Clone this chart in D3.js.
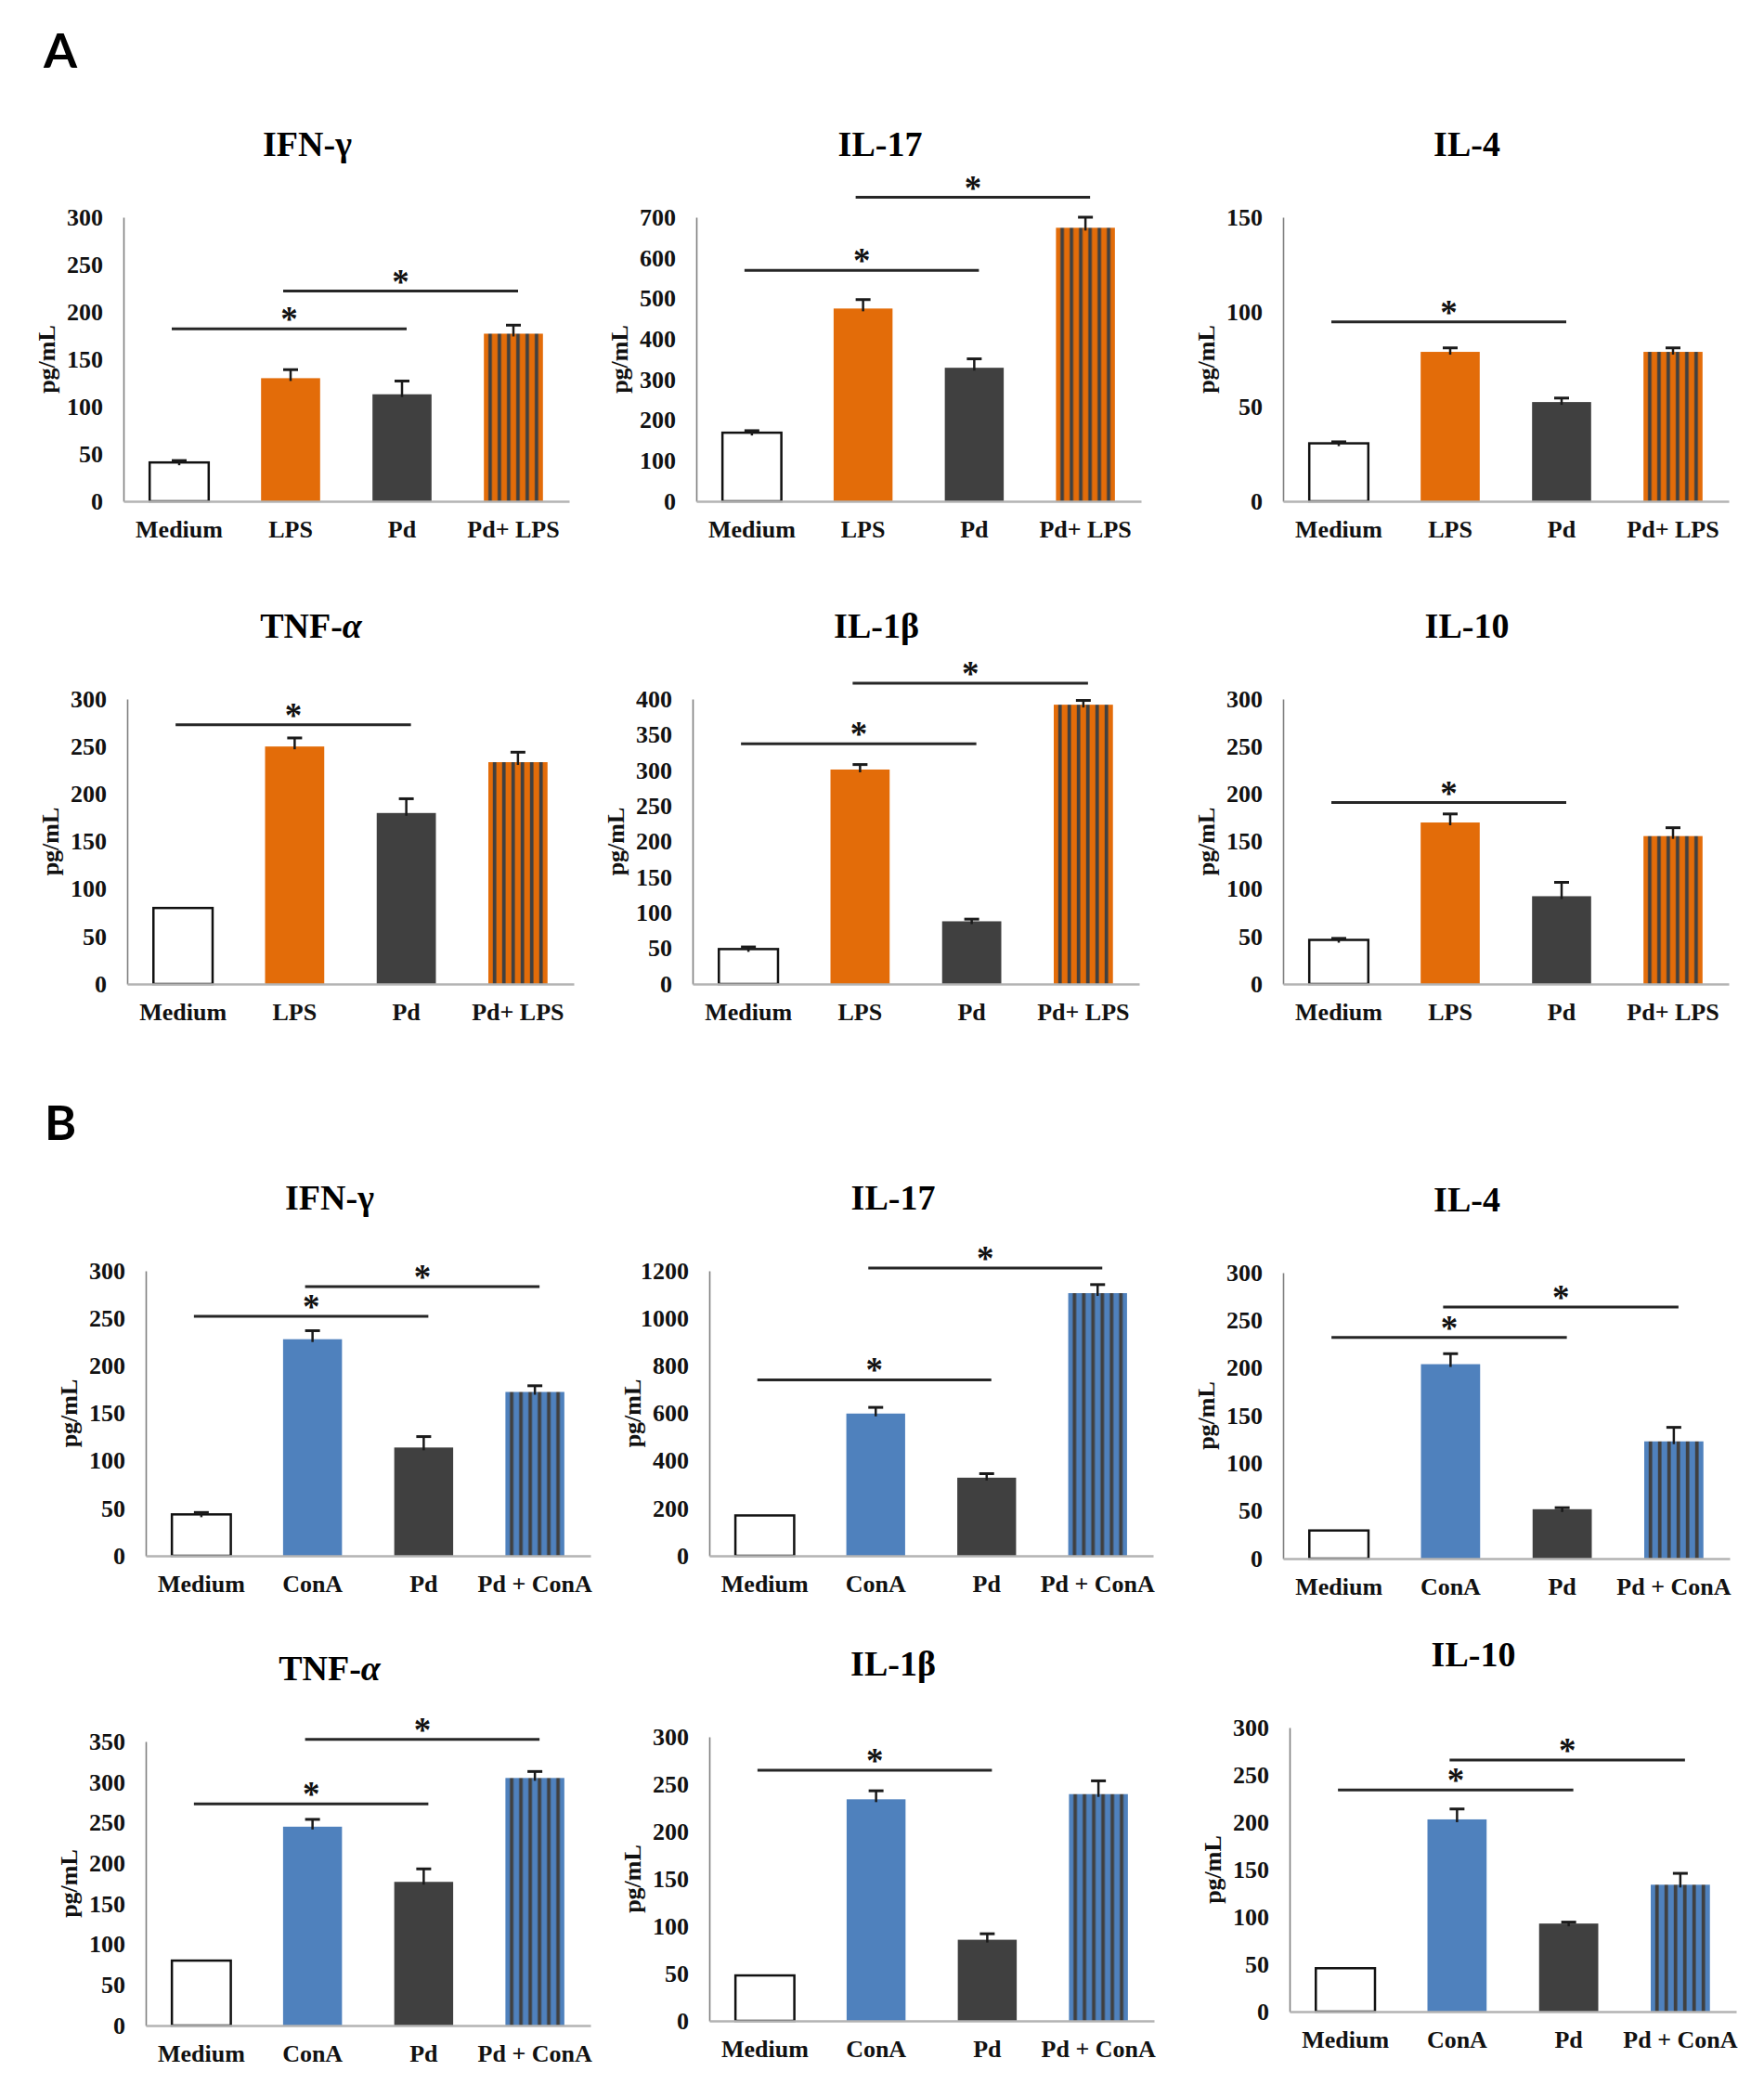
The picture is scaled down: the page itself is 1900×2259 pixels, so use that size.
<!DOCTYPE html>
<html>
<head>
<meta charset="utf-8">
<script src="https://cdn.jsdelivr.net/npm/d3@7"></script>
<style>
  body { margin: 0; background: #fff; }
  svg { display: block; }
</style>
</head>
<body>
<div id="fig"></div>
<script>
// ---- data ----
const cytokines = ['IFN-γ', 'IL-17', 'IL-4', 'TNF-α', 'IL-1β', 'IL-10'];
const groupsA = ['Medium', 'LPS', 'Pd', 'Pd+ LPS'];
const groupsB = ['Medium', 'ConA', 'Pd', 'Pd + ConA'];

const yMaxA = [300, 700, 150, 300, 400, 300];
const yStepA = [50, 100, 50, 50, 50, 50];
const yMaxB = [300, 1200, 300, 350, 300, 300];
const yStepB = [50, 200, 50, 50, 50, 50];

// mean pg/mL per group, one row per cytokine
const meansA = [
    [41, 130, 113, 177],
    [169, 475, 329, 674],
    [30.6, 78.9, 52.4, 78.9],
    [80, 250, 180, 233.5],
    [49, 301, 88, 392],
    [46.4, 170, 92.4, 155.7]
];
const errA = [
    [2, 9, 14, 9],
    [5, 22, 22, 26],
    [0.8, 2.1, 2.1, 2.1],
    [0, 9, 15, 10.5],
    [3, 7, 3, 6],
    [1.6, 9, 14.6, 8.8]
];
const meansB = [
    [43.6, 228, 114, 172.5],
    [170, 599, 329, 1106],
    [29.5, 204, 51.8, 123],
    [80, 245, 177, 305],
    [48, 234, 85.7, 239.5],
    [45.8, 203, 93, 134]
];
const errB = [
    [2, 9, 11.5, 6.5],
    [0, 26, 17, 36],
    [0, 11, 1.6, 14.7],
    [0, 9, 16, 8],
    [0, 9, 6.3, 14],
    [0, 11, 1.5, 12]
];
// significance brackets: [from group, to group, height in pg/mL]
const sigA = [
    [[0, 2, 182], [1, 3, 222]],
    [[0, 2, 569], [1, 3, 749]],
    [[0, 2, 94.7]],
    [[0, 2, 273]],
    [[0, 2, 337], [1, 3, 422]],
    [[0, 2, 191]]
];
const sigB = [
    [[0, 2, 252], [1, 3, 283.5]],
    [[0, 2, 741], [1, 3, 1212]],
    [[0, 2, 232], [1, 3, 264]],
    [[0, 2, 273], [1, 3, 352.6]],
    [[0, 2, 264.6]],
    [[0, 2, 234], [1, 3, 265.6]]
];

// ---- layout (plot frames) ----
const layout = [
    { x0: 133, x1: 613, top: 234, zero: 540 },
    { x0: 750, x1: 1229, top: 234, zero: 540 },
    { x0: 1382, x1: 1862, top: 234, zero: 540 },
    { x0: 137, x1: 618, top: 753, zero: 1060 },
    { x0: 746, x1: 1227, top: 753, zero: 1060 },
    { x0: 1382, x1: 1862, top: 753, zero: 1060 },
    { x0: 157, x1: 636, top: 1369, zero: 1676 },
    { x0: 764, x1: 1242, top: 1369, zero: 1676 },
    { x0: 1382, x1: 1863, top: 1371, zero: 1679 },
    { x0: 157, x1: 636, top: 1876, zero: 2182 },
    { x0: 764, x1: 1243, top: 1871, zero: 2177 },
    { x0: 1389, x1: 1870, top: 1861, zero: 2167 }
];

const SERIF = '"Liberation Serif", "Times New Roman", serif';
const ORANGE = '#E36C09';
const BLUE = '#4F81BD';
const DARK = '#404040';

const svg = d3.select('#fig')
    .append('svg')
    .attr('width', 1900)
    .attr('height', 2259)
    .attr('viewBox', '0 0 1900 2259');

const defs = svg.append('defs');

// Section letters
svg.append('text').attr('x', 47).attr('y', 73)
    .attr('font-family', 'Lato, "Open Sans", sans-serif').attr('font-weight', 'bold')
    .attr('font-size', 52).attr('fill', '#000').text('A');
svg.append('text').attr('x', 48).attr('y', 1228)
    .attr('font-family', 'Lato, "Open Sans", sans-serif').attr('font-weight', 'bold')
    .attr('font-size', 52).attr('fill', '#000').text('B');

function drawPanel(idx, title, groups, means, errs, sigs, yMax, yStep, accent) {
    const L = layout[idx];
    const g = svg.append('g').attr('class', 'panel');

    const x = d3.scaleBand().domain(groups)
        .range([L.x0, L.x1])
        .paddingInner(0.47)
        .paddingOuter(0.235);
    const y = d3.scaleLinear().domain([0, yMax]).range([L.zero, L.top]);
    const bw = x.bandwidth();

    // Striped pattern for the combined group
    const pat = defs.append('pattern')
        .attr('id', 'stripe-' + idx)
        .attr('patternUnits', 'userSpaceOnUse')
        .attr('x', x(groups[3]) - 1)
        .attr('y', 0)
        .attr('width', 10)
        .attr('height', 10);
    pat.append('rect').attr('width', 10).attr('height', 10).attr('fill', accent);
    pat.append('rect').attr('x', 5.8).attr('width', 3.8).attr('height', 10).attr('fill', DARK);

    const fills = ['#fff', accent, DARK, 'url(#stripe-' + idx + ')'];

    // Bars
    g.selectAll('rect.bar').data(means)
        .join('rect')
        .attr('class', 'bar')
        .attr('x', (d, i) => x(groups[i]))
        .attr('y', d => y(d))
        .attr('width', bw)
        .attr('height', d => y(0) - y(d))
        .attr('fill', (d, i) => fills[i])
        .attr('stroke', (d, i) => i === 0 ? '#111' : 'none')
        .attr('stroke-width', 2.5);

    // Upper error bars
    const eb = means.map((m, i) => ({ m, e: errs[i], i })).filter(d => d.e > 0);
    g.selectAll('line.err').data(eb)
        .join('line')
        .attr('class', 'err')
        .attr('x1', d => x(groups[d.i]) + bw / 2)
        .attr('x2', d => x(groups[d.i]) + bw / 2)
        .attr('y1', d => y(d.m) + 3)
        .attr('y2', d => y(d.m + d.e))
        .attr('stroke', '#1a1a1a')
        .attr('stroke-width', 2.5);
    g.selectAll('line.cap').data(eb)
        .join('line')
        .attr('class', 'cap')
        .attr('x1', d => x(groups[d.i]) + bw / 2 - 8)
        .attr('x2', d => x(groups[d.i]) + bw / 2 + 8)
        .attr('y1', d => y(d.m + d.e))
        .attr('y2', d => y(d.m + d.e))
        .attr('stroke', '#1a1a1a')
        .attr('stroke-width', 3);

    // Significance lines and stars
    g.selectAll('line.sig').data(sigs)
        .join('line')
        .attr('class', 'sig')
        .attr('x1', d => x(groups[d[0]]) + bw / 2 - 8)
        .attr('x2', d => x(groups[d[1]]) + bw / 2 + 5)
        .attr('y1', d => y(d[2]))
        .attr('y2', d => y(d[2]))
        .attr('stroke', '#262626')
        .attr('stroke-width', 3);
    g.selectAll('text.star').data(sigs)
        .join('text')
        .attr('class', 'star')
        .attr('x', d => (x(groups[d[0]]) + x(groups[d[1]]) + bw - 3) / 2)
        .attr('y', d => y(d[2]) + 2)
        .attr('text-anchor', 'middle')
        .attr('font-family', SERIF)
        .attr('font-weight', 'bold')
        .attr('font-size', 37)
        .attr('fill', '#111')
        .text('*');

    // Y axis
    const yAxis = g.append('g')
        .attr('transform', `translate(${L.x0},0)`)
        .call(d3.axisLeft(y)
            .tickValues(d3.range(0, yMax + 1, yStep))
            .tickFormat(d3.format('d'))
            .tickSize(0)
            .tickPadding(22));
    yAxis.select('.domain').attr('stroke', '#7f7f7f').attr('stroke-width', 1.6);
    yAxis.selectAll('text')
        .attr('font-family', SERIF)
        .attr('font-weight', 'bold')
        .attr('font-size', 26)
        .attr('fill', '#111');

    // X axis
    const xAxis = g.append('g')
        .attr('transform', `translate(0,${L.zero})`)
        .call(d3.axisBottom(x).tickSize(0).tickPadding(21));
    xAxis.select('.domain').attr('stroke', '#b3b3b3').attr('stroke-width', 2.5);
    xAxis.selectAll('text')
        .attr('font-family', SERIF)
        .attr('font-weight', 'bold')
        .attr('font-size', 26)
        .attr('fill', '#111');

    // Y label
    g.append('text')
        .attr('transform', `translate(${L.x0 - 83},${(L.top + L.zero) / 2}) rotate(-90)`)
        .attr('text-anchor', 'middle')
        .attr('dy', '0.35em')
        .attr('font-family', SERIF)
        .attr('font-weight', 'bold')
        .attr('font-size', 26)
        .attr('fill', '#111')
        .text('pg/mL');

    // Title (alpha shown in italics, as in the figure)
    const t = g.append('text')
        .attr('x', L.x0 + 198)
        .attr('y', L.top - 66)
        .attr('text-anchor', 'middle')
        .attr('font-family', SERIF)
        .attr('font-weight', 'bold')
        .attr('font-size', 38)
        .attr('fill', '#000');
    if (title.endsWith('α')) {
        t.append('tspan').text(title.slice(0, -1));
        t.append('tspan').attr('font-style', 'italic').text('α');
    } else {
        t.text(title);
    }
}

cytokines.forEach((c, k) => {
    drawPanel(k, c, groupsA, meansA[k], errA[k], sigA[k], yMaxA[k], yStepA[k], ORANGE);
});
cytokines.forEach((c, k) => {
    drawPanel(k + 6, c, groupsB, meansB[k], errB[k], sigB[k], yMaxB[k], yStepB[k], BLUE);
});
</script>
</body>
</html>
